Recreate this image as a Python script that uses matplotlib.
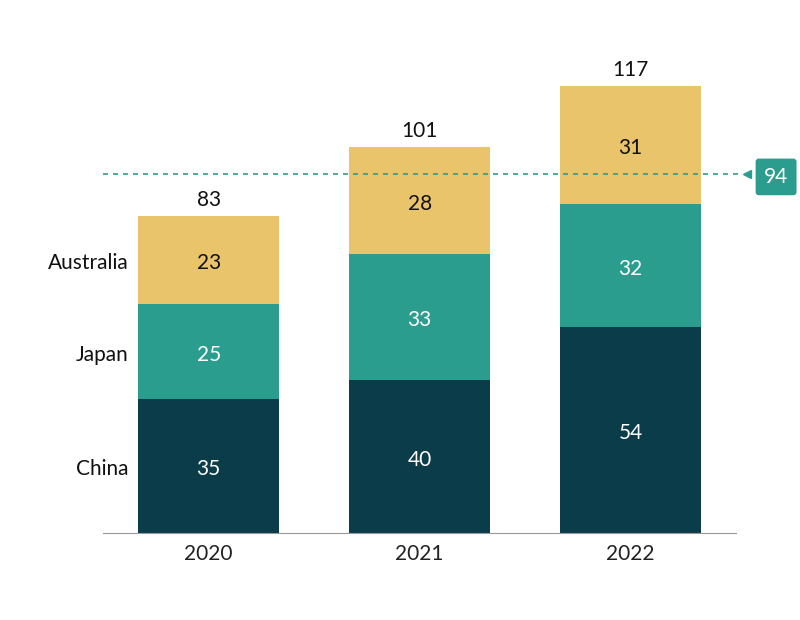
import numpy as np
import matplotlib.pyplot as plt

years = ['2020', '2021', '2022']
series = ['China', 'Japan', 'Australia']
china = [35, 40, 54]
japan = [25, 33, 32]
australia = [23, 28, 31]
target = 94

colors = ['#0b3c49', '#2a9d8f', '#e9c46a']
text_colors = ['white', 'white', '#111111']

plt.rcParams['font.family'] = ['Lato', 'DejaVu Sans']

fig = plt.figure(figsize=(8, 6.2), dpi=100)
ax = fig.add_axes([0.129, 0.1403, 0.791, 0.795])

x = np.arange(len(years))
w = 0.67
fs = 15
dy = -0.8  # nudge text down a bit to sit like the reference
bottom = np.zeros(len(years))
for vals, name, c, tc in zip([china, japan, australia], series, colors, text_colors):
    vals = np.array(vals)
    ax.bar(x, vals, w, bottom=bottom, color=c, label=name)
    for xi, b, v in zip(x, bottom, vals):
        ax.text(xi, b + v / 2 + dy, str(v), ha='center', va='center', color=tc, fontsize=fs)
    # series name to the left of the first bar
    ax.text(x[0] - w / 2 - 0.045, bottom[0] + vals[0] / 2 + dy, name, ha='right', va='center',
            fontsize=fs, color='#111111')
    bottom = bottom + vals

for xi, t in zip(x, bottom):
    ax.text(xi, t + 1.5, str(int(t)), ha='center', va='bottom', fontsize=fs, color='#111111')

# target line
ax.plot([-0.5, 2.52], [target, target], ls=(0, (3, 3)), color='#2a9d8f', lw=1.2, clip_on=False)
ax.plot([2.55], [target], marker='<', color='#2a9d8f', markersize=6, clip_on=False)
ax.text(2.69, target + dy, str(target), ha='center', va='center', color='white', fontsize=fs,
        bbox=dict(boxstyle='round,pad=0.4,rounding_size=0.15', fc='#2a9d8f', ec='none'),
        clip_on=False)

ax.set_xlim(-0.5, 2.5)
ax.set_ylim(0, 129)
ax.set_xticks(x)
ax.set_xticklabels(years, fontsize=fs, color='#222222')
ax.tick_params(axis='x', length=0, pad=8)
ax.set_yticks([])
for s in ['top', 'right', 'left']:
    ax.spines[s].set_visible(False)
ax.spines['bottom'].set_color('#999999')

fig.savefig('out.png', dpi=100)
